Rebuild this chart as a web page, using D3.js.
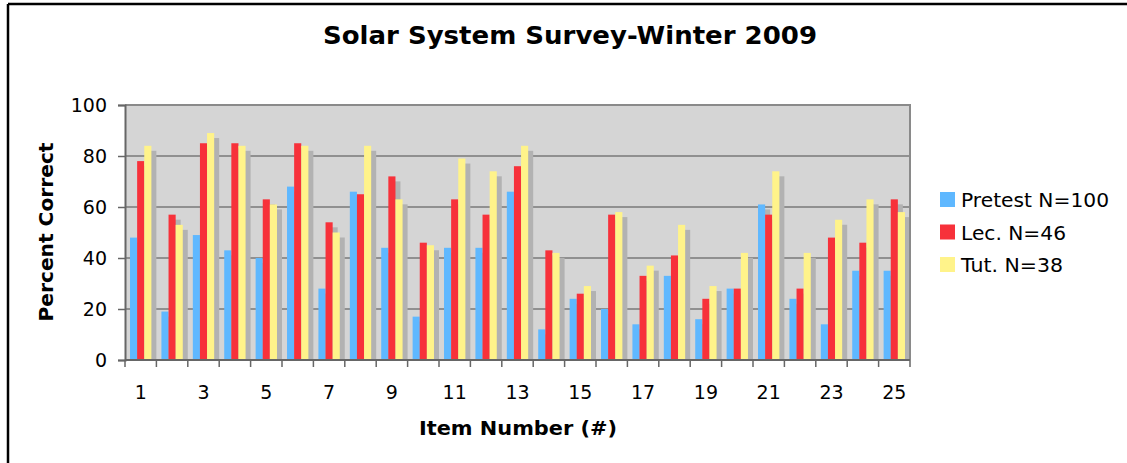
<!DOCTYPE html>
<html>
<head>
<meta charset="utf-8">
<script src="https://cdn.jsdelivr.net/npm/d3@7/dist/d3.min.js"></script>
<style>
  html, body { margin: 0; padding: 0; background: #fff; }
  svg { display: block; }
  text { font-family: Verdana, "DejaVu Sans", sans-serif; fill: #000; }
</style>
</head>
<body>
<svg id="chart" width="1127" height="463"></svg>
<script>
// Survey items 1..25
const items = d3.range(1, 26).map(String);
const xTickLabels = ["1","3","5","7","9","11","13","15","17","19","21","23","25"];
const yTicks = [0, 20, 40, 60, 80, 100];

// Percent correct per item
const pretest = [48,19,49,43,40,68,28,66,44,17,44,44,66,12,24,20,14,33,16,28,61,24,14,35,35];
const lecture = [78,57,85,85,63,85,54,65,72,46,63,57,76,43,26,57,33,41,24,28,57,28,48,46,63];
const tutorial = [84,53,89,84,61,84,50,84,63,45,79,74,84,42,29,58,37,53,29,42,74,42,55,63,58];

const seriesNames = ["Pretest N=100", "Lec. N=46", "Tut. N=38"];
const seriesColors = ["#5fb8ff", "#f7313a", "#fff38a"];
const seriesValues = [pretest, lecture, tutorial];
const legendWidths = [148, 105, 102];

const svg = d3.select("#chart");
const W = 1127, H = 463;
const plot = { left: 125, right: 910, top: 105, bottom: 360 };

// Outer frame: only the top and left edges fall inside the page
svg.append("line").attr("x1", 8).attr("x2", W).attr("y1", 4).attr("y2", 4)
  .attr("stroke", "#000").attr("stroke-width", 2.5);
svg.append("line").attr("x1", 8).attr("x2", 8).attr("y1", 4).attr("y2", H)
  .attr("stroke", "#000").attr("stroke-width", 2.5);

// Title
svg.append("text")
  .attr("x", 570).attr("y", 44)
  .attr("text-anchor", "middle")
  .attr("font-size", 25).attr("font-weight", "bold")
  .attr("textLength", 494).attr("lengthAdjust", "spacingAndGlyphs")
  .text("Solar System Survey-Winter 2009");

const x0 = d3.scaleBand().domain(items).range([plot.left, plot.right]).padding(0);
const bw = x0.bandwidth();
const x1 = d3.scaleBand().domain(d3.range(3)).range([bw * 0.16, bw * 0.84]).padding(0);
const y = d3.scaleLinear().domain([0, 100]).range([plot.bottom, plot.top]);

// Plot background
svg.append("rect")
  .attr("x", plot.left).attr("y", plot.top)
  .attr("width", plot.right - plot.left).attr("height", plot.bottom - plot.top)
  .attr("fill", "#d5d5d5");

// Gridlines
svg.append("g").selectAll("line")
  .data(yTicks.filter(d => d > 0 && d < 100))
  .join("line")
  .attr("x1", plot.left).attr("x2", plot.right)
  .attr("y1", d => y(d)).attr("y2", d => y(d))
  .attr("stroke", "#4d4d4d").attr("stroke-width", 1.2);

// Clip the bar shadows to the plot
svg.append("clipPath").attr("id", "plotClip")
  .append("rect")
  .attr("x", plot.left).attr("y", plot.top)
  .attr("width", plot.right - plot.left).attr("height", plot.bottom - plot.top);

const rows = items.map((it, i) => ({ item: it, vals: seriesValues.map(s => s[i]) }));
const shadowOff = 5;

const barsG = svg.append("g").attr("clip-path", "url(#plotClip)");

// Drop shadows first
barsG.append("g").selectAll("g")
  .data(rows).join("g")
  .attr("transform", d => `translate(${x0(d.item)},0)`)
  .selectAll("rect")
  .data(d => d.vals.map((v, k) => ({ v, k })))
  .join("rect")
  .attr("x", d => x1(d.k) + shadowOff)
  .attr("y", d => y(d.v) + shadowOff)
  .attr("width", x1.bandwidth())
  .attr("height", d => y(0) - y(d.v))
  .attr("fill", "#b2b2b2");

// Bars, series drawn in order so each covers the previous shadow
seriesValues.forEach((vals, k) => {
  barsG.append("g").selectAll("rect")
    .data(rows).join("rect")
    .attr("x", d => x0(d.item) + x1(k))
    .attr("y", d => y(d.vals[k]))
    .attr("width", x1.bandwidth())
    .attr("height", d => y(0) - y(d.vals[k]))
    .attr("fill", seriesColors[k]);
});

// Plot frame: top and right edges
svg.append("path")
  .attr("d", `M${plot.left},${plot.top}H${plot.right}V${plot.bottom}`)
  .attr("fill", "none").attr("stroke", "#8a8a8a").attr("stroke-width", 2);

// Y axis
const yAxis = d3.axisLeft(y).tickValues(yTicks).tickSize(7).tickPadding(11);
const gy = svg.append("g").attr("transform", `translate(${plot.left},0)`).call(yAxis);
gy.select(".domain").attr("stroke", "#666").attr("stroke-width", 2);
gy.selectAll(".tick line").attr("stroke", "#666").attr("stroke-width", 1.5);
gy.selectAll(".tick text").attr("font-size", 19).attr("font-family", "Verdana, DejaVu Sans, sans-serif")
  .attr("fill", "#000").attr("dy", "0.36em");

// X axis: ticks at group boundaries, labels on odd items
const gx = svg.append("g").attr("transform", `translate(0,${plot.bottom})`);
gx.append("line").attr("x1", plot.left).attr("x2", plot.right)
  .attr("stroke", "#666").attr("stroke-width", 2);
gx.selectAll("line.tk")
  .data(items.concat(["end"]))
  .join("line").attr("class", "tk")
  .attr("x1", (d, i) => plot.left + i * bw).attr("x2", (d, i) => plot.left + i * bw)
  .attr("y1", 0).attr("y2", 7)
  .attr("stroke", "#666").attr("stroke-width", 1.5);
gx.selectAll("text")
  .data(xTickLabels).join("text")
  .attr("x", d => x0(d) + bw / 2)
  .attr("y", 39)
  .attr("text-anchor", "middle")
  .attr("font-size", 19)
  .text(d => d);

// Axis titles
svg.append("text")
  .attr("transform", `translate(53,232) rotate(-90)`)
  .attr("text-anchor", "middle")
  .attr("font-size", 19).attr("font-weight", "bold")
  .attr("textLength", 179).attr("lengthAdjust", "spacingAndGlyphs")
  .text("Percent Correct");
svg.append("text")
  .attr("x", 518).attr("y", 435)
  .attr("text-anchor", "middle")
  .attr("font-size", 19).attr("font-weight", "bold")
  .attr("textLength", 198).attr("lengthAdjust", "spacingAndGlyphs")
  .text("Item Number (#)");

// Legend
const legend = svg.append("g").attr("transform", "translate(940,192)");
const li = legend.selectAll("g").data(seriesNames).join("g")
  .attr("transform", (d, i) => `translate(0,${i * 32.5})`);
li.append("rect").attr("width", 15).attr("height", 15)
  .attr("fill", (d, i) => seriesColors[i]);
li.append("text").attr("x", 21).attr("y", 15)
  .attr("font-size", 19)
  .attr("textLength", (d, i) => legendWidths[i]).attr("lengthAdjust", "spacingAndGlyphs")
  .text(d => d);
</script>
</body>
</html>
